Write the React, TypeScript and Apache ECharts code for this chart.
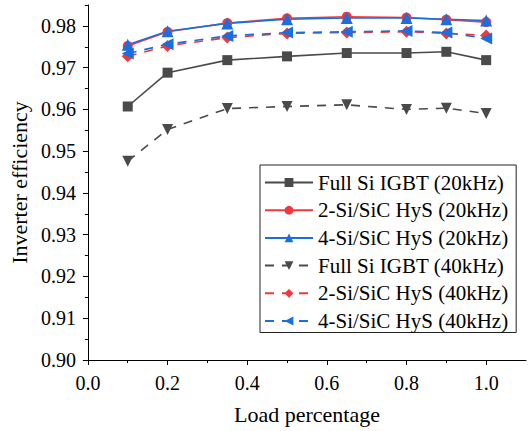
import React, { useEffect, useRef } from "react";
import * as echarts from "echarts";

const loads = [0.1, 0.2, 0.35, 0.5, 0.65, 0.8, 0.9, 1.0];
const fullSi20 = [0.9607, 0.9688, 0.9718, 0.9727, 0.9735, 0.9735, 0.9738, 0.9718];
const hys2_20 = [0.9752, 0.9786, 0.9807, 0.9818, 0.9822, 0.9820, 0.9815, 0.9809];
const hys4_20 = [0.9755, 0.9787, 0.9806, 0.9816, 0.9819, 0.9819, 0.9816, 0.9813];
const fullSi40 = [0.9476, 0.9552, 0.9602, 0.9607, 0.9611, 0.9600, 0.9603, 0.9590];
const hys2_40 = [0.9727, 0.9752, 0.9772, 0.9782, 0.9784, 0.9786, 0.9782, 0.9777];
const hys4_40 = [0.9734, 0.9756, 0.9776, 0.9784, 0.9786, 0.9788, 0.9784, 0.9770];

const seriesNames = [
  "Full Si IGBT (20kHz)",
  "2-Si/SiC HyS (20kHz)",
  "4-Si/SiC HyS (20kHz)",
  "Full Si IGBT (40kHz)",
  "2-Si/SiC HyS (40kHz)",
  "4-Si/SiC HyS (40kHz)",
];

const xMajor = [0, 0.2, 0.4, 0.6, 0.8, 1.0];
const xMinor = [0.1, 0.3, 0.5, 0.7, 0.9];
const yMajor = [0.9, 0.91, 0.92, 0.93, 0.94, 0.95, 0.96, 0.97, 0.98];
const yMinor = [0.905, 0.915, 0.925, 0.935, 0.945, 0.955, 0.965, 0.975, 0.985];

const FONT = "'Liberation Serif', 'Times New Roman', serif";
const GRAY = "#4a4a4a";
const RED = "#f0393c";
const BLUE = "#1a6fdf";

export default function App() {
  const ref = useRef<HTMLDivElement>(null);
  useEffect(() => {
    if (!ref.current) return;
    const chart = echarts.init(ref.current, null, { renderer: "svg" });
    const mk = (
      name: string,
      data: number[],
      color: string,
      symbol: string,
      size: number,
      dashed: boolean,
      rotate = 0
    ) => ({
      name,
      type: "line",
      data: loads.map((x, i) => [x, data[i]]),
      symbol,
      symbolSize: size,
      symbolRotate: rotate,
      showAllSymbol: true,
      itemStyle: { color },
      lineStyle: { color, width: 1.6, type: dashed ? [9, 8] : "solid" },
      emphasis: { disabled: true },
    });
    const axisLine = { show: true, lineStyle: { color: "#000", width: 1 } };
    chart.setOption({
      animation: false,
      textStyle: { fontFamily: FONT },
      grid: { left: 84, right: 3, top: 5, bottom: 71 },
      legend: {
        orient: "vertical",
        left: 260,
        top: 165,
        data: seriesNames,
        itemWidth: 48,
        itemHeight: 11,
        itemGap: 6.7,
        padding: [7, 8, 1, 4],
        borderColor: "#222",
        borderWidth: 1,
        textStyle: { fontFamily: FONT, fontSize: 21, color: "#000", lineHeight: 20 },
      },
      xAxis: [
        {
          type: "value",
          min: 0,
          max: 1.1,
          axisLine,
          splitLine: { show: false },
          axisTick: { show: true, length: 5, customValues: xMajor, lineStyle: { color: "#000" } },
          axisLabel: {
            customValues: xMajor,
            formatter: (v: number) => v.toFixed(1),
            fontFamily: FONT,
            fontSize: 20,
            color: "#000",
            margin: 13,
          },
          name: "Load percentage",
          nameLocation: "middle",
          nameGap: 43,
          nameTextStyle: { fontFamily: FONT, fontSize: 22, color: "#000" },
        },
        {
          type: "value",
          min: 0,
          max: 1.1,
          position: "bottom",
          axisLine: { show: false },
          splitLine: { show: false },
          axisTick: { show: true, length: 3, customValues: xMinor, lineStyle: { color: "#000" } },
          axisLabel: { show: false },
        },
      ],
      yAxis: [
        {
          type: "value",
          min: 0.9,
          max: 0.985,
          axisLine,
          splitLine: { show: false },
          axisTick: { show: true, length: 5, customValues: yMajor, lineStyle: { color: "#000" } },
          axisLabel: {
            customValues: yMajor,
            formatter: (v: number) => v.toFixed(2),
            fontFamily: FONT,
            fontSize: 20,
            color: "#000",
            margin: 12,
          },
          name: "Inverter efficiency",
          nameLocation: "middle",
          nameGap: 51,
          nameTextStyle: { fontFamily: FONT, fontSize: 22, color: "#000" },
        },
        {
          type: "value",
          min: 0.9,
          max: 0.985,
          position: "left",
          axisLine: { show: false },
          splitLine: { show: false },
          axisTick: { show: true, length: 3, customValues: yMinor, lineStyle: { color: "#000" } },
          axisLabel: { show: false },
        },
      ],
      series: [
        mk(seriesNames[0], fullSi20, GRAY, "rect", 10, false),
        mk(seriesNames[1], hys2_20, RED, "circle", 10, false),
        mk(seriesNames[2], hys4_20, BLUE, "triangle", 12, false),
        mk(seriesNames[3], fullSi40, GRAY, "triangle", 11, true, 180),
        mk(seriesNames[4], hys2_40, RED, "diamond", 12, true),
        mk(seriesNames[5], hys4_40, BLUE, "triangle", 12, true, 90),
      ],
    });
    return () => chart.dispose();
  }, []);
  return (
    <div
      ref={ref}
      style={{ position: "absolute", left: 0, top: 0, width: 529, height: 431 }}
    />
  );
}
